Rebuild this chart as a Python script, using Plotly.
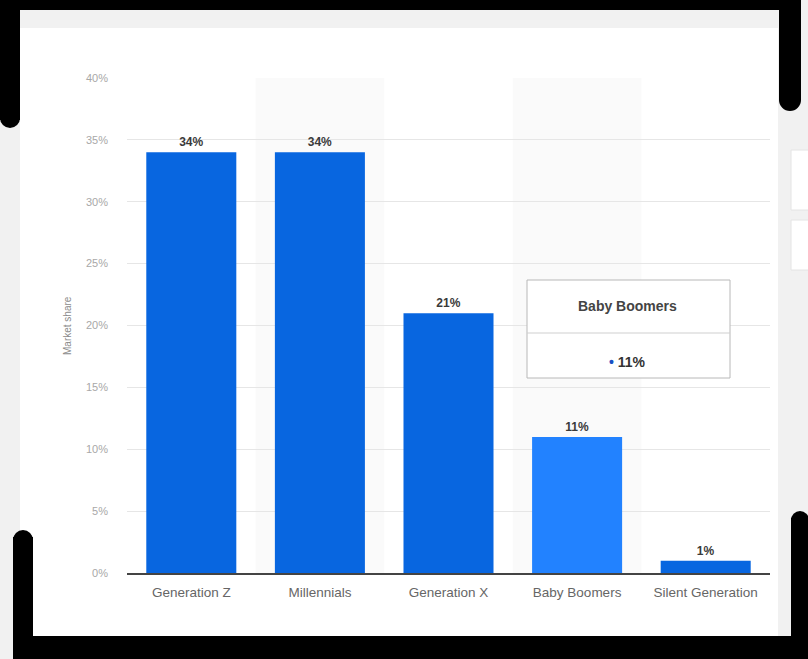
import plotly.graph_objects as go

categories = ["Generation Z", "Millennials", "Generation X", "Baby Boomers", "Silent Generation"]
market_share = [34, 34, 21, 11, 1]
y_ticks = [0, 5, 10, 15, 20, 25, 30, 35, 40]
y_tick_labels = [f"{v}%" for v in y_ticks]
hover_category = "Baby Boomers"

W, H = 808, 659
L, R, T, B = 127, 38, 78, 86
PW, PH = W - L - R, H - T - B


def px(x):
    return (x - L) / PW


def py(y):
    return (H - y - B) / PH


base_blue = "#0866e0"
hover_blue = "#2282ff"
colors = [hover_blue if c == hover_category else base_blue for c in categories]

fig = go.Figure()
fig.add_trace(go.Bar(
    x=categories, y=market_share,
    marker=dict(color=colors, line=dict(width=0)),
    texttemplate="<b>%{y}%</b>", textposition="outside",
    textfont=dict(family="Liberation Sans, Arial", size=12, color="#3a3a3a"),
    cliponaxis=False, hoverinfo="skip",
))

shapes = []
# page background white panel
shapes.append(dict(type="rect", xref="paper", yref="paper", layer="below",
                   x0=px(20), x1=px(778), y0=py(640), y1=py(28),
                   fillcolor="white", line=dict(width=0)))
# alternating column shading
for i, c in enumerate(categories):
    if i % 2 == 1:
        shapes.append(dict(type="rect", xref="x", yref="paper", layer="below",
                           x0=i - 0.5, x1=i + 0.5, y0=0, y1=1,
                           fillcolor="#fafafa", line=dict(width=0)))
# side widgets on the right
for (y0, y1) in [(150, 210), (220, 270)]:
    shapes.append(dict(type="rect", xref="paper", yref="paper",
                       x0=px(791), x1=px(812), y0=py(y1), y1=py(y0),
                       fillcolor="white", line=dict(color="#e4e4e4", width=1)))

# tooltip box
shapes.append(dict(type="rect", xref="paper", yref="paper",
                   x0=px(527), x1=px(730), y0=py(378), y1=py(280),
                   fillcolor="white", line=dict(color="#b8b8b8", width=1)))
shapes.append(dict(type="line", xref="paper", yref="paper",
                   x0=px(527), x1=px(730), y0=py(333), y1=py(333),
                   line=dict(color="#cfcfcf", width=1)))

# black frame corner marks
black = "#000000"
frame_rects = [
    (0, 0, 800, 10),     # top bar
    (0, 0, 20, 120),     # top-left vertical
    (779, 0, 801, 100),  # top-right vertical
    (13, 537, 33, 652),  # bottom-left vertical
    (13, 636, 808, 659), # bottom bar
    (791, 518, 808, 640) # bottom-right vertical
]
for (x0, y0, x1, y1) in frame_rects:
    shapes.append(dict(type="rect", xref="paper", yref="paper",
                       x0=px(x0), x1=px(x1), y0=py(y1), y1=py(y0),
                       fillcolor=black, line=dict(width=0)))
# rounded ends
for (cx, cy, r) in [(10, 118, 10), (790, 100, 11), (23, 540, 10), (800, 520, 9)]:
    shapes.append(dict(type="circle", xref="paper", yref="paper",
                       x0=px(cx - r), x1=px(cx + r), y0=py(cy + r), y1=py(cy - r),
                       fillcolor=black, line=dict(width=0)))

annotations = [
    dict(text="Market share", xref="paper", yref="paper", x=px(67), y=py(326),
         textangle=-90, showarrow=False, xanchor="center", yanchor="middle",
         font=dict(family="Liberation Sans, Arial", size=10, color="#8a8a8a")),
    dict(text="<b>" + hover_category + "</b>", xref="paper", yref="paper",
         x=px(627), y=py(306), showarrow=False, xanchor="center", yanchor="middle",
         font=dict(family="Liberation Sans, Arial", size=14, color="#444444")),
    dict(text="<span style='color:#1a4fc4'><b>•</b></span> <b>" + f"{market_share[categories.index(hover_category)]}%" + "</b>",
         xref="paper", yref="paper",
         x=px(627), y=py(362), showarrow=False, xanchor="center", yanchor="middle",
         font=dict(family="Liberation Sans, Arial", size=14, color="#333333")),
]

fig.update_layout(
    width=W, height=H,
    margin=dict(l=L, r=R, t=T, b=B, pad=0),
    paper_bgcolor="#f1f1f1", plot_bgcolor="rgba(0,0,0,0)",
    bargap=0.3, showlegend=False,
    shapes=shapes, annotations=annotations,
    font=dict(family="Liberation Sans, Arial"),
    xaxis=dict(showgrid=False, showline=True, linecolor="#444444", linewidth=1.5,
               ticks="", tickfont=dict(size=13.5, color="#666666"),
               ticklabelstandoff=6, fixedrange=True),
    yaxis=dict(range=[0, 40], tickvals=y_ticks, ticktext=y_tick_labels,
               showgrid=True, gridcolor="#e6e6e6", gridwidth=1, zeroline=False,
               tickfont=dict(size=11, color="#a8a8a8"), ticklabelstandoff=18,
               showline=False, fixedrange=True),
)

fig.write_html(
    "out.html",
    config={"displayModeBar": False},
    post_script="document.body.style.margin='0';document.body.style.overflow='hidden';",
)
